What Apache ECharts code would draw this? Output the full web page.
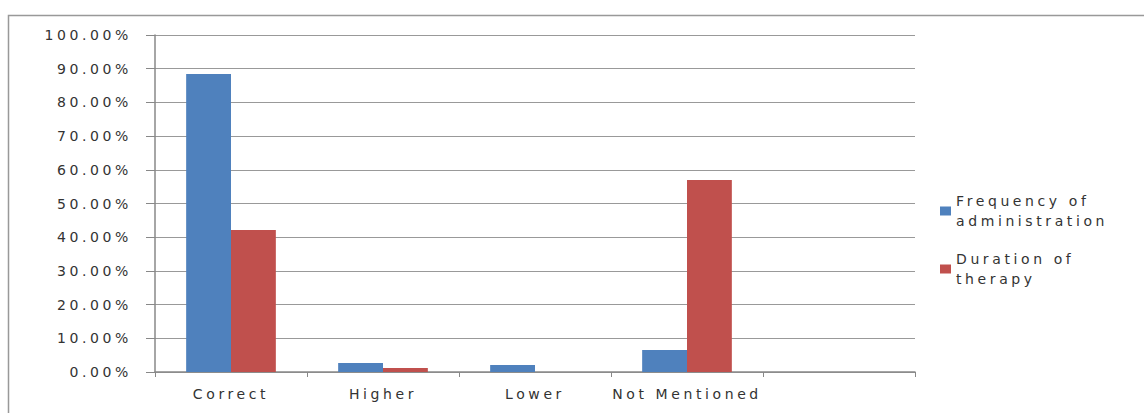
<!DOCTYPE html>
<html lang="en">
<head>
  <meta charset="UTF-8">
  <title>Dosage Comparison</title>
  <script src="https://cdn.jsdelivr.net/npm/echarts@6.0.0/dist/echarts.min.js"></script>
  <style>
    html, body { margin: 0; padding: 0; background: #fff; }
    #chart-container { width: 1144px; height: 413px; }
    /* the original uses a very wide, loosely spaced font */
    #chart-container text { letter-spacing: 3.6px; }
  </style>
</head>
<body>
  <div id="chart-container"></div>
  <script>
    // categories (last slot is empty in the original chart)
    const categories = ['Correct', 'Higher', 'Lower', 'Not Mentioned', ''];
    const frequencyValues = [0.884, 0.027, 0.021, 0.065, null];
    const durationValues = [0.421, 0.012, 0, 0.57, null];
    const seriesNames = ['Frequency of administration', 'Duration of therapy'];

    const font = 'DejaVu Sans, Verdana, sans-serif';

    const chart = echarts.init(document.getElementById('chart-container'), null, { renderer: 'svg' });
    chart.setOption({
      animation: false,
      color: ['#4F81BD', '#C0504D'],
      graphic: [
        {
          // outer frame of the original chart area
          type: 'rect',
          shape: { x: 8.5, y: 15.5, width: 1300, height: 600 },
          style: { fill: 'none', stroke: '#999', lineWidth: 1.5 },
          silent: true
        }
      ],
      grid: { left: 155, top: 35, right: 229, bottom: 41 },
      legend: {
        orient: 'vertical',
        left: 935,
        top: 186,
        itemWidth: 11,
        itemHeight: 9,
        itemGap: 18,
        icon: 'rect',
        textStyle: { fontFamily: font, fontSize: 14, color: '#333', lineHeight: 20 },
        formatter: function (name) {
          return name.replace(' of ', ' of\n');
        },
        data: seriesNames
      },
      xAxis: {
        type: 'category',
        data: categories,
        axisLine: { lineStyle: { color: '#888', width: 1.5 } },
        axisTick: { show: true, length: 5, lineStyle: { color: '#888' } },
        axisLabel: { fontFamily: font, fontSize: 14, color: '#333', margin: 15, interval: 0 },
        splitLine: { show: false }
      },
      yAxis: {
        type: 'value',
        min: 0,
        max: 1,
        interval: 0.1,
        axisLine: { show: true, lineStyle: { color: '#888', width: 1.5 } },
        axisTick: { show: true, length: 9, lineStyle: { color: '#888' } },
        axisLabel: {
          fontFamily: font, fontSize: 14, color: '#333', margin: 23,
          formatter: function (v) { return (v * 100).toFixed(2) + '%'; }
        },
        splitLine: { lineStyle: { color: '#999', width: 1.2 } }
      },
      series: [
        {
          name: seriesNames[0],
          type: 'bar',
          data: frequencyValues,
          barGap: '0%',
          barCategoryGap: '41%'
        },
        {
          name: seriesNames[1],
          type: 'bar',
          data: durationValues,
          barGap: '0%',
          barCategoryGap: '41%'
        }
      ]
    });
  </script>
</body>
</html>
